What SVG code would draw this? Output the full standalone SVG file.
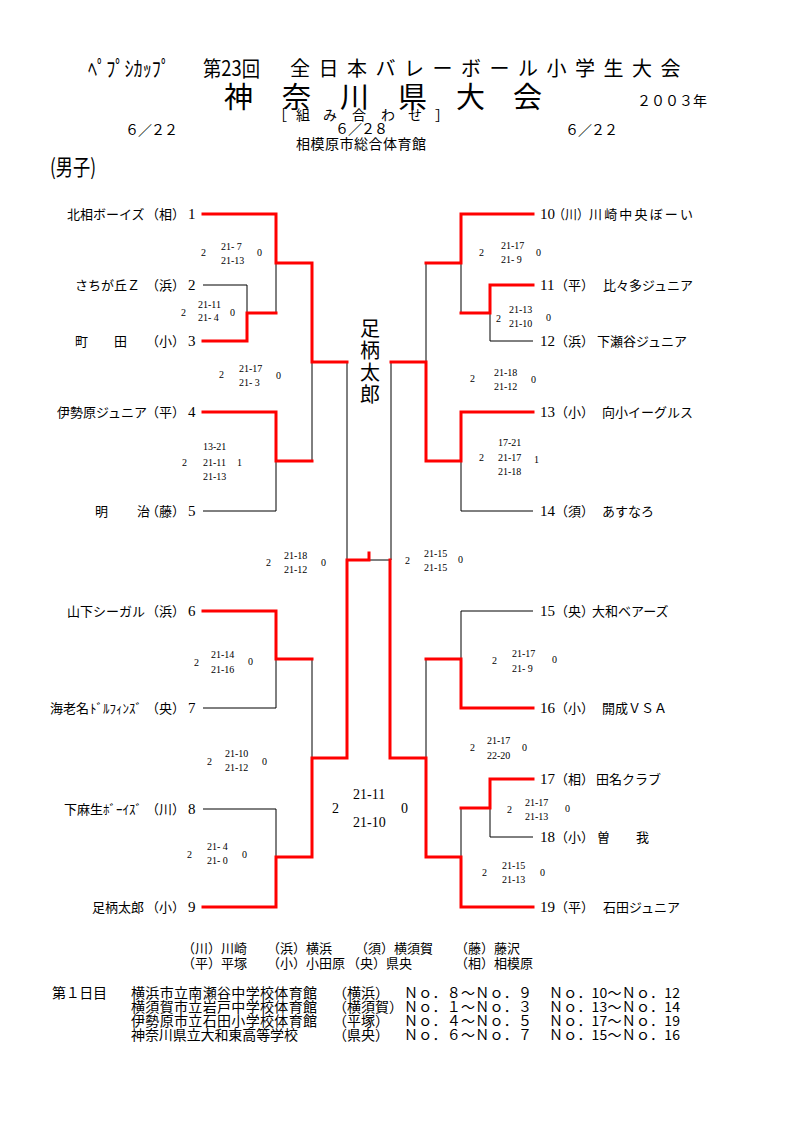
<svg xmlns="http://www.w3.org/2000/svg" width="794" height="1123" viewBox="0 0 794 1123">
<style>
.jp{font-family:"Noto Sans CJK JP","Noto Sans CJK SC",sans-serif;fill:#000}
.t13{font-size:13px}
.t14{font-size:14px}
.num{font-family:"Liberation Serif","Noto Sans CJK JP",serif;font-size:15px;fill:#000}
.sc{font-family:"Liberation Serif",serif;font-size:10px;fill:#000}
.scb{font-family:"Liberation Serif",serif;font-size:14px;fill:#000}
.blk{fill:none;stroke:#000;stroke-width:1}
.red{fill:none;stroke:#ff0000;stroke-width:3;stroke-linejoin:miter;stroke-linecap:square}
</style>
<rect width="794" height="1123" fill="#fff"/>

<g id="header">
<text class="jp" x="88" y="76" font-size="21" textLength="82" lengthAdjust="spacingAndGlyphs">ﾍﾟﾌﾟｼｶｯﾌﾟ</text>
<text class="jp" x="203" y="76" font-size="21" textLength="57" lengthAdjust="spacingAndGlyphs">第23回</text>
<text class="jp" font-size="20" y="76" x="290 318.5 347 375.5 404 432.5 461 489.5 518 546.5 575 603.5 632 660.5">全日本バレーボール小学生大会</text>
<text class="jp" font-size="29" y="108" x="224 282 340 398 456 513">神奈川県大会</text>
<text class="jp t14" x="637" y="106" textLength="70" lengthAdjust="spacing">２００３年</text>
<text class="jp t14" y="120" x="273 296 323 352 381 408 435">［組み合わせ］</text>
<text class="jp t14" x="125" y="135" textLength="53" lengthAdjust="spacing">６／２２</text>
<text class="jp t14" x="335" y="134" textLength="53" lengthAdjust="spacing">６／２８</text>
<text class="jp t14" x="565" y="135" textLength="53" lengthAdjust="spacing">６／２２</text>
<text class="jp t14" x="296" y="149" textLength="130" lengthAdjust="spacing">相模原市総合体育館</text>
<text class="jp" x="50" y="175" font-size="22" textLength="46" lengthAdjust="spacingAndGlyphs">(男子)</text>
</g>

<g id="connectors">
<path class="blk" d="M203 285H247V313 M276 263V313 M203 511H276V461 M312 362V461 M347 362V560 M203 708H276V659 M312 659V758 M203 809H276V857 M369 560H391 M426 263V362 M461 263V313 M533 341H490V313 M533 511H461V461 M391 362V560 M533 611H461V659 M426 659V758 M533 837H490V808 M461 808V857"/>
<path class="red" d="M203 214H276V263H312V362H347"/>
<path class="red" d="M203 341H247V313H276"/>
<path class="red" d="M203 412H276V461H312"/>
<path class="red" d="M203 611H276V659H312"/>
<path class="red" d="M203 907H276V857H312V758H347V560H369V553"/>
<path class="red" d="M533 214H461V263H426"/>
<path class="red" d="M533 285H490V313H461"/>
<path class="red" d="M533 412H461V461H426V362H391"/>
<path class="red" d="M533 708H461V659H426"/>
<path class="red" d="M533 779H490V808H461"/>
<path class="red" d="M533 907H461V857H426V758H390V560"/>
</g>

<g id="team1"><text class="jp t13" x="67" y="219">北相ボーイズ</text><text class="jp t13" x="146" y="219">（相）</text><text class="num" x="188" y="219">1</text></g>
<g id="team2"><text class="jp t13" x="75" y="290">さちが丘Ｚ</text><text class="jp t13" x="146" y="290">（浜）</text><text class="num" x="188" y="290">2</text></g>
<g id="team3"><text class="jp t13" x="75 114" y="346">町田</text><text class="jp t13" x="146" y="346">（小）</text><text class="num" x="188" y="346">3</text></g>
<g id="team4"><text class="jp t13" x="57" y="417">伊勢原ジュニア</text><text class="jp t13" x="146" y="417">（平）</text><text class="num" x="188" y="417">4</text></g>
<g id="team5"><text class="jp t13" x="95 137" y="516">明治</text><text class="jp t13" x="146" y="516">（藤）</text><text class="num" x="188" y="516">5</text></g>
<g id="team6"><text class="jp t13" x="67" y="616">山下シーガル</text><text class="jp t13" x="146" y="616">（浜）</text><text class="num" x="188" y="616">6</text></g>
<g id="team7"><text class="jp t13" y="713"><tspan x="50">海老名</tspan><tspan x="90">ﾄﾞﾙﾌｨﾝｽﾞ</tspan></text><text class="jp t13" x="146" y="713">（央）</text><text class="num" x="188" y="713">7</text></g>
<g id="team8"><text class="jp t13" y="814"><tspan x="64">下麻生</tspan><tspan x="103">ﾎﾞｰｲｽﾞ</tspan></text><text class="jp t13" x="146" y="814">（川）</text><text class="num" x="188" y="814">8</text></g>
<g id="team9"><text class="jp t13" x="92" y="912">足柄太郎</text><text class="jp t13" x="146" y="912">（小）</text><text class="num" x="188" y="912">9</text></g>

<g id="team10"><text class="num" x="540" y="219">10</text><text class="jp t13" x="553" y="219" textLength="36" lengthAdjust="spacingAndGlyphs">（川）</text><text class="jp t13" x="589" y="219" textLength="104" lengthAdjust="spacing">川崎中央ぼーい</text></g>
<g id="team11"><text class="num" x="540" y="290">11</text><text class="jp t13" x="555" y="290">（平）</text><text class="jp t13" x="603" y="290">比々多ジュニア</text></g>
<g id="team12"><text class="num" x="540" y="346">12</text><text class="jp t13" x="555" y="346">（浜）</text><text class="jp t13" x="597" y="346">下瀬谷ジュニア</text></g>
<g id="team13"><text class="num" x="540" y="417">13</text><text class="jp t13" x="555" y="417">（小）</text><text class="jp t13" x="602" y="417">向小イーグルス</text></g>
<g id="team14"><text class="num" x="540" y="516">14</text><text class="jp t13" x="555" y="516">（須）</text><text class="jp t13" x="602" y="516">あすなろ</text></g>
<g id="team15"><text class="num" x="540" y="616">15</text><text class="jp t13" x="555" y="616">（央）</text><text class="jp t13" x="592" y="616">大和ベアーズ</text></g>
<g id="team16"><text class="num" x="540" y="713">16</text><text class="jp t13" x="555" y="713">（小）</text><text class="jp t13" x="602" y="713">開成ＶＳＡ</text></g>
<g id="team17"><text class="num" x="540" y="784">17</text><text class="jp t13" x="555" y="784">（相）</text><text class="jp t13" x="596" y="784">田名クラブ</text></g>
<g id="team18"><text class="num" x="540" y="842">18</text><text class="jp t13" x="555" y="842">（小）</text><text class="jp t13" x="597 636" y="842">曽我</text></g>
<g id="team19"><text class="num" x="540" y="912">19</text><text class="jp t13" x="555" y="912">（平）</text><text class="jp t13" x="603" y="912">石田ジュニア</text></g>

<g id="champion"><text class="jp" font-size="20" text-anchor="middle" x="370 370 370 370" y="336 358 380 402">足柄太郎</text></g>

<g id="scores">
<text class="sc" x="201" y="256">2</text><text class="sc" x="221" y="250">21- 7</text><text class="sc" x="221" y="264">21-13</text><text class="sc" x="257" y="256">0</text>
<text class="sc" x="181" y="316">2</text><text class="sc" x="198" y="308">21-11</text><text class="sc" x="198" y="321">21- 4</text><text class="sc" x="230" y="316">0</text>
<text class="sc" x="219" y="378">2</text><text class="sc" x="239" y="372">21-17</text><text class="sc" x="239" y="386">21- 3</text><text class="sc" x="276" y="379">0</text>
<text class="sc" x="182" y="466">2</text><text class="sc" x="203" y="450">13-21</text><text class="sc" x="203" y="466">21-11</text><text class="sc" x="203" y="480">21-13</text><text class="sc" x="237" y="466">1</text>
<text class="sc" x="266" y="566">2</text><text class="sc" x="284" y="559">21-18</text><text class="sc" x="284" y="573">21-12</text><text class="sc" x="321" y="566">0</text>
<text class="sc" x="194" y="666">2</text><text class="sc" x="211" y="658">21-14</text><text class="sc" x="211" y="673">21-16</text><text class="sc" x="248" y="665">0</text>
<text class="sc" x="207" y="765">2</text><text class="sc" x="225" y="757">21-10</text><text class="sc" x="225" y="771">21-12</text><text class="sc" x="262" y="765">0</text>
<text class="sc" x="187" y="858">2</text><text class="sc" x="207" y="850">21- 4</text><text class="sc" x="207" y="864">21- 0</text><text class="sc" x="242" y="858">0</text>
<text class="scb" x="332" y="813">2</text><text class="scb" x="353" y="799">21-11</text><text class="scb" x="353" y="827">21-10</text><text class="scb" x="401" y="813">0</text>
<text class="sc" x="479" y="256">2</text><text class="sc" x="501" y="249">21-17</text><text class="sc" x="501" y="263">21- 9</text><text class="sc" x="536" y="256">0</text>
<text class="sc" x="496" y="322">2</text><text class="sc" x="509" y="313">21-13</text><text class="sc" x="509" y="327">21-10</text><text class="sc" x="546" y="321">0</text>
<text class="sc" x="470" y="382">2</text><text class="sc" x="494" y="376">21-18</text><text class="sc" x="494" y="390">21-12</text><text class="sc" x="531" y="383">0</text>
<text class="sc" x="479" y="461">2</text><text class="sc" x="498" y="446">17-21</text><text class="sc" x="498" y="461">21-17</text><text class="sc" x="498" y="475">21-18</text><text class="sc" x="534" y="463">1</text>
<text class="sc" x="405" y="564">2</text><text class="sc" x="424" y="557">21-15</text><text class="sc" x="424" y="571">21-15</text><text class="sc" x="458" y="563">0</text>
<text class="sc" x="492" y="664">2</text><text class="sc" x="512" y="657">21-17</text><text class="sc" x="512" y="672">21- 9</text><text class="sc" x="552" y="663">0</text>
<text class="sc" x="470" y="751">2</text><text class="sc" x="487" y="744">21-17</text><text class="sc" x="487" y="759">22-20</text><text class="sc" x="522" y="751">0</text>
<text class="sc" x="507" y="813">2</text><text class="sc" x="525" y="806">21-17</text><text class="sc" x="525" y="820">21-13</text><text class="sc" x="565" y="812">0</text>
<text class="sc" x="482" y="876">2</text><text class="sc" x="502" y="869">21-15</text><text class="sc" x="502" y="883">21-13</text><text class="sc" x="540" y="876">0</text>
</g>

<g id="legend">
<text class="jp t13" x="182" y="953">（川）川崎</text><text class="jp t13" x="267" y="953">（浜）横浜</text><text class="jp t13" x="355" y="953">（須）横須賀</text><text class="jp t13" x="455" y="953">（藤）藤沢</text>
<text class="jp t13" x="182" y="968">（平）平塚</text><text class="jp t13" x="267" y="968">（小）小田原</text><text class="jp t13" x="347" y="968">（央）県央</text><text class="jp t13" x="455" y="968">（相）相模原</text>
</g>

<g id="schedule">
<text class="jp t14" x="52" y="998" textLength="55" lengthAdjust="spacing">第１日目</text>
<text class="jp t14" x="131" y="998" textLength="186" lengthAdjust="spacing">横浜市立南瀬谷中学校体育館</text>
<text class="jp t14" x="131" y="1012" textLength="186" lengthAdjust="spacing">横須賀市立岩戸中学校体育館</text>
<text class="jp t14" x="131" y="1026" textLength="186" lengthAdjust="spacing">伊勢原市立石田小学校体育館</text>
<text class="jp t14" x="131" y="1040" textLength="167" lengthAdjust="spacing">神奈川県立大和東高等学校</text>
<text class="jp t14" x="333" y="998">（横浜）</text>
<text class="jp t14" x="333" y="1012">（横須賀）</text>
<text class="jp t14" x="333" y="1026">（平塚）</text>
<text class="jp t14" x="333" y="1040">（県央）</text>
<text class="jp t14" x="404" y="998" textLength="128" lengthAdjust="spacing">Ｎｏ．８～Ｎｏ．９</text>
<text class="jp t14" x="404" y="1012" textLength="128" lengthAdjust="spacing">Ｎｏ．１～Ｎｏ．３</text>
<text class="jp t14" x="404" y="1026" textLength="128" lengthAdjust="spacing">Ｎｏ．４～Ｎｏ．５</text>
<text class="jp t14" x="404" y="1040" textLength="128" lengthAdjust="spacing">Ｎｏ．６～Ｎｏ．７</text>
<text class="jp t14" x="549" y="998" textLength="131" lengthAdjust="spacing">Ｎｏ．10～Ｎｏ．12</text>
<text class="jp t14" x="549" y="1012" textLength="131" lengthAdjust="spacing">Ｎｏ．13～Ｎｏ．14</text>
<text class="jp t14" x="549" y="1026" textLength="131" lengthAdjust="spacing">Ｎｏ．17～Ｎｏ．19</text>
<text class="jp t14" x="549" y="1040" textLength="131" lengthAdjust="spacing">Ｎｏ．15～Ｎｏ．16</text>
</g>
</svg>
